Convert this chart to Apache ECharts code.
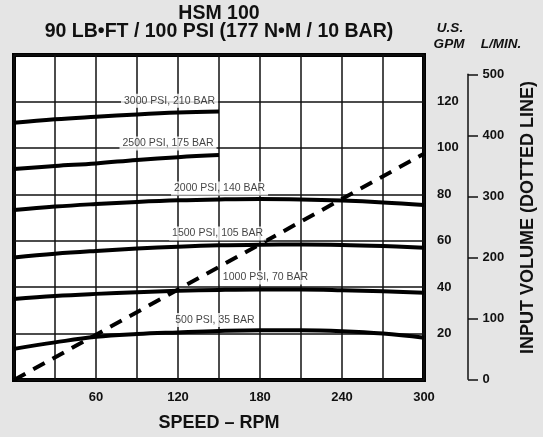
<!DOCTYPE html>
<html><head><meta charset="utf-8">
<script src="https://cdn.jsdelivr.net/npm/echarts@6/dist/echarts.min.js"></script>
<style>html,body{margin:0;padding:0;background:#e5e5e5}#c{width:543px;height:437px}</style>
</head><body><div id="c"></div>
<script>
// ---- data ----
const rpm = [0, 30, 60, 90, 120, 150, 180, 210, 240, 270, 300];
const rpmShort = [0, 30, 60, 90, 120, 150];
const gpm500  = [13.4, 16.2, 18.6, 19.8, 20.5, 21.1, 21.4, 21.4, 21.0, 20.0, 18.2];
const gpm1000 = [34.9, 36.2, 37.1, 37.8, 38.4, 38.8, 39.0, 39.0, 38.7, 38.2, 37.6];
const gpm1500 = [52.8, 54.4, 55.6, 56.6, 57.4, 58.0, 58.3, 58.4, 58.2, 57.7, 57.0];
const gpm2000 = [73.2, 74.7, 75.8, 76.7, 77.4, 77.8, 78.0, 77.8, 77.3, 76.5, 75.4];
const gpm2500 = [90.9, 92.2, 93.3, 94.8, 96.0, 96.9];
const gpm3000 = [110.8, 112.3, 113.4, 114.4, 115.2, 115.7];
const inputRpm = [0, 300];
const inputGpm = [0, 97.5];
const curveNames = ['500 PSI, 35 BAR', '1000 PSI, 70 BAR', '1500 PSI, 105 BAR',
                    '2000 PSI, 140 BAR', '2500 PSI, 175 BAR', '3000 PSI, 210 BAR'];
const labelRpm = [147, 184, 149, 150.4, 112.7, 113.8];
const labelGpm = [25.9, 44.2, 63.1, 82.5, 101.9, 120.3];
const xTicks = [60, 120, 180, 240, 300];
const gpmTicks = [20, 40, 60, 80, 100, 120];
const lpmTicks = [0, 100, 200, 300, 400, 500];
const titleLines = ['HSM 100', '90 LB•FT / 100 PSI (177 N•M / 10 BAR)'];

// ---- chart ----
const SANS = "'Liberation Sans',Arial,sans-serif";
const INK = '#111';
const pair = (xs, ys) => xs.map((x, i) => [x, ys[i]]);
const curves = [gpm500, gpm1000, gpm1500, gpm2000, gpm2500, gpm3000];
const curveX = [rpm, rpm, rpm, rpm, rpmShort, rpmShort];

const series = curves.map((ys, i) => ({
  name: curveNames[i], type: 'line', smooth: 0.4, showSymbol: false, symbol: 'none',
  xAxisIndex: 0, yAxisIndex: 0, z: 3,
  lineStyle: { color: '#000', width: 4 },
  data: pair(curveX[i], ys)
}));
series.push({
  name: 'input', type: 'line', showSymbol: false, symbol: 'none', xAxisIndex: 0, yAxisIndex: 0, z: 4,
  lineStyle: { color: '#000', width: 4, type: [13, 9] },
  data: pair(inputRpm, inputGpm)
});
series.push({
  name: 'labels', type: 'scatter', xAxisIndex: 0, yAxisIndex: 0, symbolSize: 1, z: 5,
  itemStyle: { color: 'rgba(0,0,0,0)' },
  label: { show: true, position: 'inside', formatter: '{b}', color: INK, fontFamily: SANS,
           fontSize: 10.5, backgroundColor: '#fff', padding: [2, 3, 1, 3] },
  data: labelRpm.map((r, i) => ({ name: curveNames[i], value: [r, labelGpm[i]] }))
});

const tickFont = { color: INK, fontFamily: SANS, fontWeight: 'bold', fontSize: 13 };

const chart = echarts.init(document.getElementById('c'), null, { renderer: 'canvas' });
chart.setOption({
  backgroundColor: '#e5e5e5',
  animation: false,
  grid: [
    { left: 14, top: 55, width: 410, height: 325, show: true, backgroundColor: '#fff',
      borderColor: '#000', borderWidth: 4 },
    { left: 468, top: 74.3, width: 1, height: 305 }
  ],
  xAxis: [
    { gridIndex: 0, type: 'value', min: 0, max: 300, interval: 30,
      axisLine: { show: false }, axisTick: { show: false },
      splitLine: { show: true, lineStyle: { color: INK, width: 1.5 } },
      axisLabel: Object.assign({ margin: 11, showMaxLabel: true,
                   formatter: v => xTicks.includes(v) ? String(v) : '' }, tickFont) },
    { gridIndex: 1, type: 'value', show: false, min: 0, max: 1 }
  ],
  yAxis: [
    { gridIndex: 0, type: 'value', min: 0, max: 140, interval: 20, position: 'right',
      axisLine: { show: false }, axisTick: { show: false },
      splitLine: { show: true, lineStyle: { color: INK, width: 1.5 } },
      axisLabel: Object.assign({ margin: 13,
                   formatter: v => gpmTicks.includes(v) ? String(v) : '' }, tickFont) },
    { gridIndex: 1, type: 'value', min: 0, max: 500, interval: 100, position: 'right',
      axisLine: { show: true, lineStyle: { color: INK, width: 1.5 } },
      axisTick: { show: true, length: 10, lineStyle: { color: INK, width: 1.5 } },
      splitLine: { show: false },
      axisLabel: Object.assign({ margin: 13.5,
                   formatter: v => lpmTicks.includes(v) ? String(v) : '' }, tickFont) }
  ],
  graphic: [
    { type: 'text', x: 219, y: 13.5, style: { text: titleLines[0], textAlign: 'center', textVerticalAlign: 'middle',
      font: 'bold 19.5px ' + SANS, fill: INK } },
    { type: 'text', x: 219, y: 32, style: { text: titleLines[1], textAlign: 'center', textVerticalAlign: 'middle',
      font: 'bold 19.5px ' + SANS, fill: INK } },
    { type: 'text', x: 450, y: 28.5, style: { text: 'U.S.', textAlign: 'center', textVerticalAlign: 'middle',
      font: 'italic bold 13.5px ' + SANS, fill: INK } },
    { type: 'text', x: 449, y: 44.5, style: { text: 'GPM', textAlign: 'center', textVerticalAlign: 'middle',
      font: 'italic bold 13.5px ' + SANS, fill: INK } },
    { type: 'text', x: 501, y: 44.5, style: { text: 'L/MIN.', textAlign: 'center', textVerticalAlign: 'middle',
      font: 'italic bold 13.5px ' + SANS, fill: INK } },
    { type: 'text', x: 528, y: 217.5, rotation: Math.PI / 2,
      style: { text: 'INPUT VOLUME (DOTTED LINE)', textAlign: 'center', textVerticalAlign: 'middle',
      font: 'bold 18px ' + SANS, fill: INK } },
    { type: 'text', x: 219, y: 423, style: { text: 'SPEED – RPM', textAlign: 'center', textVerticalAlign: 'middle',
      font: 'bold 18px ' + SANS, fill: INK } }
  ],
  series: series
});
</script></body></html>
